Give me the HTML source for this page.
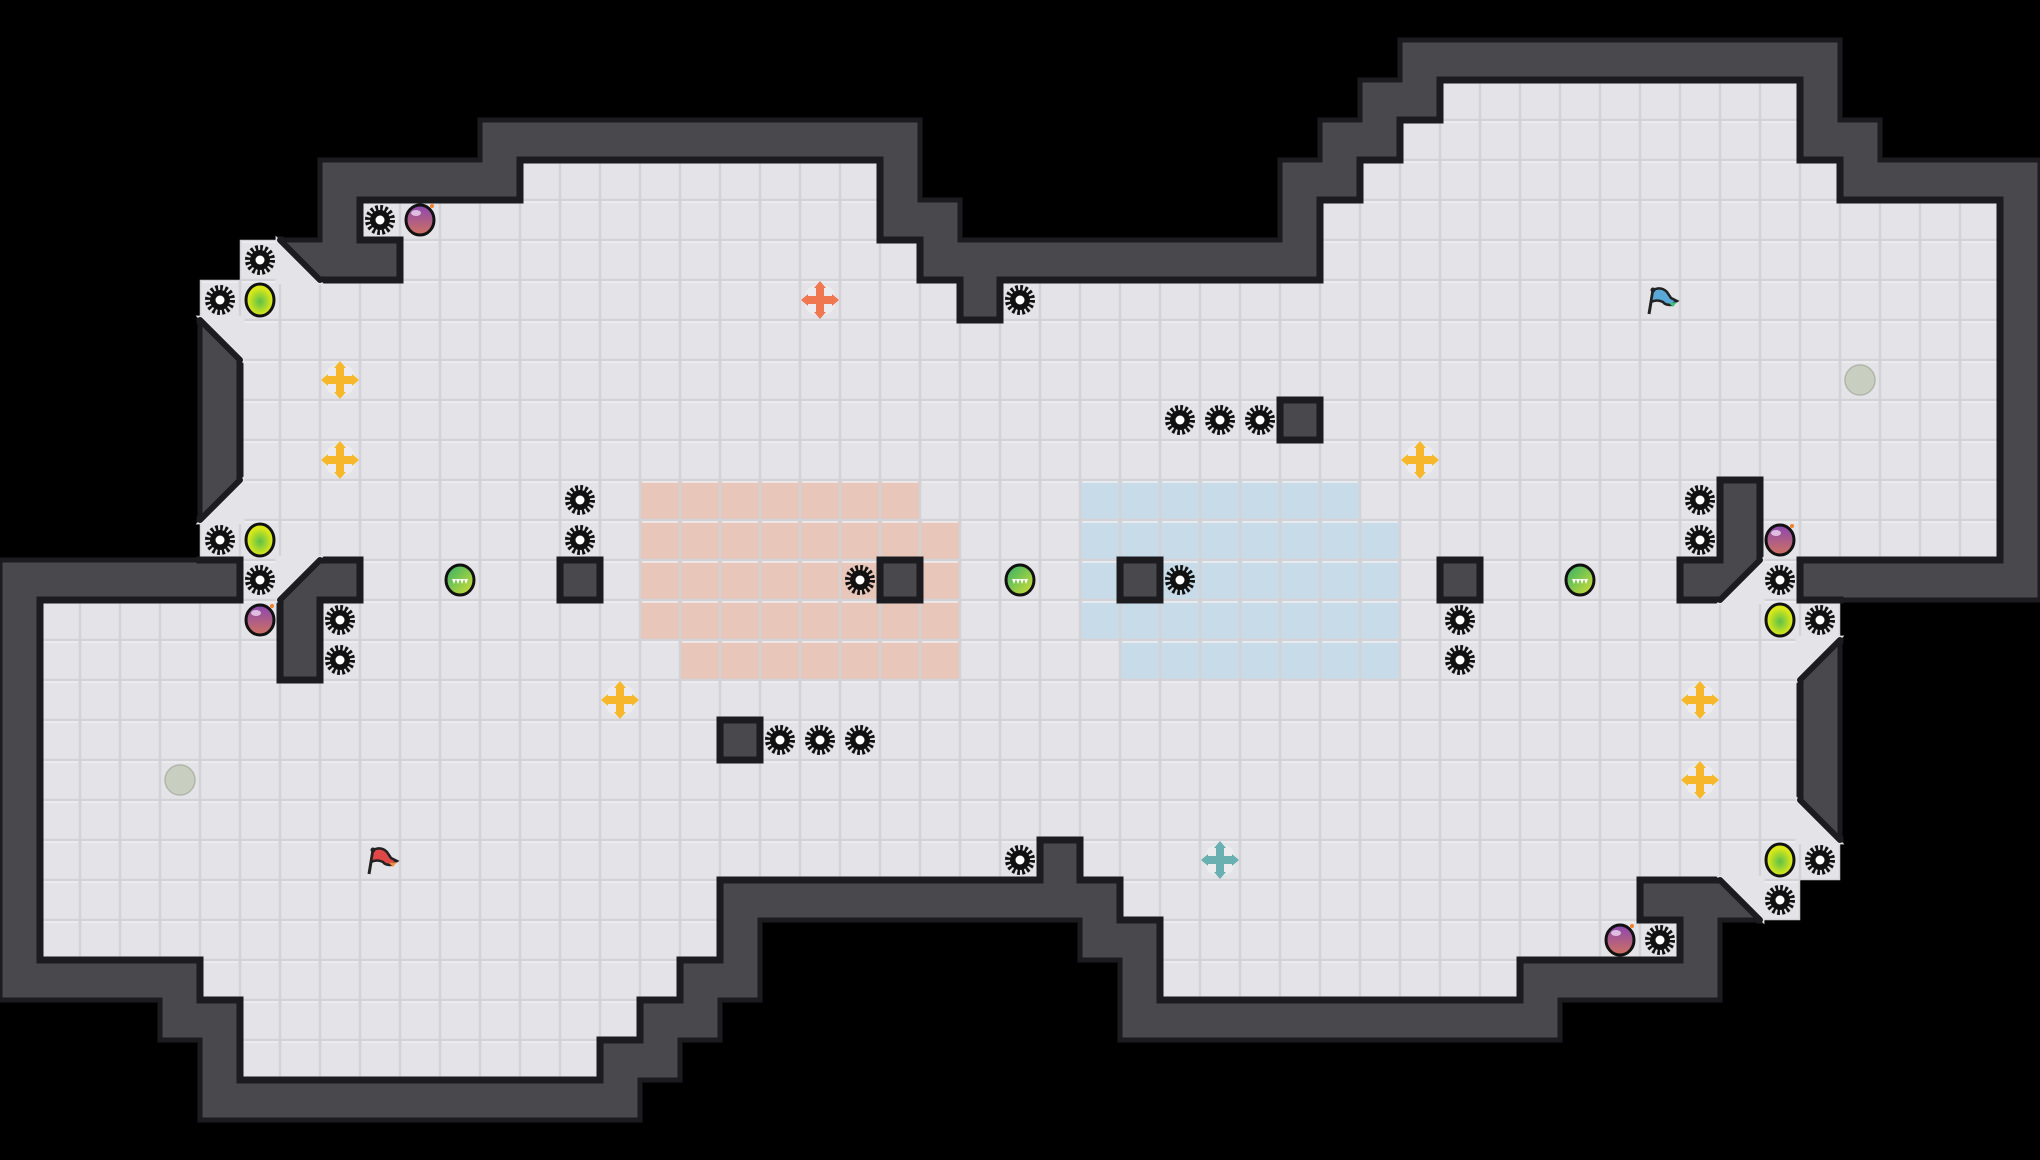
<!DOCTYPE html>
<html><head><meta charset="utf-8">
<style>
html,body{margin:0;padding:0;background:#000;width:2040px;height:1160px;overflow:hidden}
svg{display:block}
</style></head>
<body>
<svg id="s" width="2040" height="1160" viewBox="0 0 2040 1160" xmlns="http://www.w3.org/2000/svg">
<defs>
<radialGradient id="gy" cx="0.5" cy="0.55" r="0.6"><stop offset="0" stop-color="#5cc04a"/><stop offset="0.7" stop-color="#d8e81a"/><stop offset="1" stop-color="#e8ec10"/></radialGradient>
<linearGradient id="gg" x1="0" y1="0" x2="1" y2="1"><stop offset="0" stop-color="#2eb06a"/><stop offset="1" stop-color="#d8e030"/></linearGradient>
<linearGradient id="gb" x1="0" y1="0" x2="0" y2="1"><stop offset="0" stop-color="#8a48b0"/><stop offset="1" stop-color="#d07060"/></linearGradient>
</defs>
<rect width="2040" height="1160" fill="#000"/>
<g id="walls"></g>
<g id="floor"></g>
<g id="edges"></g>
<g id="diag"></g>
<g id="items"></g>
</svg>
<script>
var F={2:[[36,44]],3:[[35,44]],4:[[13,21],[34,45]],5:[[9,21],[33,49]],6:[[6,6],[10,22],[33,49]],
7:[[5,23],[25,49]],8:[[6,49]],9:[[6,49]],10:[[6,31],[33,49]],11:[[6,49]],12:[[6,42],[44,49]],13:[[5,42],[44,49]],
14:[[6,6],[9,13],[15,21],[23,27],[29,35],[37,41],[44,44]],15:[[1,6],[8,45]],16:[[1,6],[8,44]],17:[[1,44]],
18:[[1,17],[19,44]],19:[[1,44]],20:[[1,44]],21:[[1,25],[27,45]],22:[[1,17],[28,40],[44,44]],23:[[1,17],[29,41]],
24:[[5,16],[29,37]],25:[[6,15]],26:[[6,14]]};
var R=29,C=51,T=40,g=[];
for(var r=0;r<R;r++){g.push([]);for(var c=0;c<C;c++)g[r].push(0);}
for(var k in F){F[k].forEach(function(a){for(var c=a[0];c<=a[1];c++)g[+k][c]=1;});}
function fl(r,c){return r>=0&&r<R&&c>=0&&c<C&&g[r][c]==1;}
for(var r=0;r<R;r++)for(var c=0;c<C;c++){if(g[r][c])continue;
 for(var dr=-1;dr<=1;dr++)for(var dc=-1;dc<=1;dc++)if(fl(r+dr,c+dc))g[r][c]=2;}
[[5,5],[5,6],[5,7],[6,4],[6,5],[7,4],[8,4],[9,4],[12,4],[13,4],
 [15,46],[16,46],[20,46],[21,46],[22,46],[22,45],[23,43],[23,44],[23,45]].forEach(function(p){if(g[p[0]][p[1]]==2)g[p[0]][p[1]]=0;});
var ns="http://www.w3.org/2000/svg";
function el(p,t,a){var e=document.createElementNS(ns,t);for(var k in a)e.setAttribute(k,a[k]);document.getElementById(p).appendChild(e);return e;}
var orange={12:[16,22],13:[16,23],14:[16,23],15:[16,23],16:[17,23]};
var blue={12:[27,33],13:[27,34],14:[27,34],15:[27,34],16:[28,34]};
for(var r=0;r<R;r++)for(var c=0;c<C;c++){
 var x=c*T,y=r*T;
 if(g[r][c]==2){el("walls","rect",{x:x,y:y,width:T,height:T,fill:"#48484d"});}
 if(g[r][c]==1){
  var col="#e4e4e8";
  if(orange[r]&&c>=orange[r][0]&&c<=orange[r][1])col="#e8c6b9";
  if(blue[r]&&c>=blue[r][0]&&c<=blue[r][1])col="#c8dbe8";
  el("floor","rect",{x:x+0.5,y:y+0.5,width:T-1,height:T-1,fill:col,stroke:"#d2d2d7","stroke-width":1.5});
  el("floor","line",{x1:x+2,y1:y+2,x2:x+T-2,y2:y+2,stroke:"#f0f0f3","stroke-width":1.5});
 }
}
for(var r=0;r<R;r++)for(var c=0;c<C;c++){
 if(g[r][c]!=2)continue;var x=c*T,y=r*T;
 var nb=[[r-1,c,x,y,x+T,y],[r+1,c,x,y+T,x+T,y+T],[r,c-1,x,y,x,y+T],[r,c+1,x+T,y,x+T,y+T]];
 nb.forEach(function(n){var v=(n[0]>=0&&n[0]<R&&n[1]>=0&&n[1]<C)?g[n[0]][n[1]]:0;
  if(v!=2)el("edges","line",{x1:n[2],y1:n[3],x2:n[4],y2:n[5],stroke:"#1c1c20","stroke-width":v==1?7:5,"stroke-linecap":"square"});});
}
// diagonal floor triangles: V = right-angle corner, A,B = hypotenuse ends
function tri(V,A,B){var mx=(A[0]+B[0])/2,my=(A[1]+B[1])/2,s=1.22;
 function sc(p){return (mx+(p[0]-mx)*s)+","+(my+(p[1]-my)*s);}
 el("diag","polygon",{points:sc(V)+" "+sc(A)+" "+sc(B),fill:"#e4e4e8"});
 el("diag","line",{x1:A[0],y1:A[1],x2:B[0],y2:B[1],stroke:"#1c1c20","stroke-width":6,"stroke-linecap":"round"});}
tri([240,320],[200,320],[240,360]);
tri([240,520],[240,480],[200,520]);
tri([280,280],[280,240],[320,280]);
tri([280,560],[320,560],[280,600]);
tri([1760,600],[1760,560],[1720,600]);
tri([1800,640],[1840,640],[1800,680]);
tri([1800,840],[1800,800],[1840,840]);
tri([1760,880],[1720,880],[1760,920]);
function cx(c){return c*T+20;}function cy(r){return r*T+20;}
function gear(c,r){var X=cx(c),Y=cy(r);
 el("items","circle",{cx:X,cy:Y,r:12,fill:"none",stroke:"#111","stroke-width":6,"stroke-dasharray":"2.6 2.1"});
 el("items","circle",{cx:X,cy:Y,r:10,fill:"#111"});
 el("items","circle",{cx:X,cy:Y,r:4.5,fill:"#fff"});}
function orb(c,r){el("items","ellipse",{cx:cx(c),cy:cy(r),rx:14,ry:16,fill:"url(#gy)",stroke:"#111","stroke-width":3});}
function gorb(c,r){var X=cx(c),Y=cy(r);el("items","ellipse",{cx:X,cy:Y,rx:14,ry:15,fill:"url(#gg)",stroke:"#111","stroke-width":3});
 el("items","path",{d:"M"+(X-8)+" "+(Y-1)+"h16l-2 5l-2-5l-2 5l-2-5l-2 5l-2-5l-2 5z",fill:"#fff"});}
function bomb(c,r){var X=cx(c),Y=cy(r);el("items","ellipse",{cx:X,cy:Y,rx:14,ry:15,fill:"url(#gb)",stroke:"#111","stroke-width":3});
 el("items","ellipse",{cx:X-4,cy:Y-7,rx:5,ry:3,fill:"#f0d8f0",opacity:0.8});
 el("items","circle",{cx:X+12,cy:Y-14,r:2,fill:"#f08030"});}
function cross(c,r,col){var X=cx(c),Y=cy(r);
 el("items","circle",{cx:X,cy:Y,r:16,fill:"#ececef"});
 el("items","path",{d:"M"+(X-4)+" "+(Y-12)+"h8v8h8v8h-8v8h-8v-8h-8v-8h8z",fill:col});
 el("items","path",{d:"M"+X+" "+(Y-19)+"l-6 7h12zM"+X+" "+(Y+19)+"l-6-7h12zM"+(X-19)+" "+Y+"l7-6v12zM"+(X+19)+" "+Y+"l-7-6v12z",fill:col});}
function flag(c,r,col,col2){var X=cx(c),Y=cy(r);
 el("items","line",{x1:X-7,y1:Y-10,x2:X-11,y2:Y+14,stroke:"#222","stroke-width":3});
 el("items","path",{d:"M"+(X-7)+" "+(Y-10)+"q8-4 14 2l4 6l6 3l-6 4q-6 0-8-3q-6-3-12 0z",fill:col,stroke:"#222","stroke-width":2.5});
 el("items","path",{d:"M"+(X+9)+" "+(Y+3)+"l8-1l-4 5z",fill:col2});
 el("items","circle",{cx:X-7,cy:Y-10,r:2.5,fill:"#222"});}
function grey(c,r){el("items","circle",{cx:cx(c),cy:cy(r),r:15,fill:"#c8cfc0",stroke:"#b0b6aa","stroke-width":1.5});}
[[9,5],[6,6],[5,7],[25,7],[29,10],[30,10],[31,10],[14,12],[14,13],[5,13],[42,12],[42,13],[6,14],[21,14],[29,14],[44,14],
 [8,15],[36,15],[45,15],[8,16],[36,16],[19,18],[20,18],[21,18],[25,21],[45,21],[44,22],[41,23]].forEach(function(p){gear(p[0],p[1]);});
[[6,7],[6,13],[44,15],[44,21]].forEach(function(p){orb(p[0],p[1]);});
[[11,14],[25,14],[39,14]].forEach(function(p){gorb(p[0],p[1]);});
[[10,5],[44,13],[6,15],[40,23]].forEach(function(p){bomb(p[0],p[1]);});
[[8,9],[8,11],[35,11],[15,17],[42,17],[42,19]].forEach(function(p){cross(p[0],p[1],"#f6b82a");});
cross(20,7,"#f07850");cross(30,21,"#6ab0b0");
grey(46,9);grey(4,19);
flag(41,7,"#5aa8d8","#40c080");flag(9,21,"#e04848","#f09040");
</script>
</body></html>
